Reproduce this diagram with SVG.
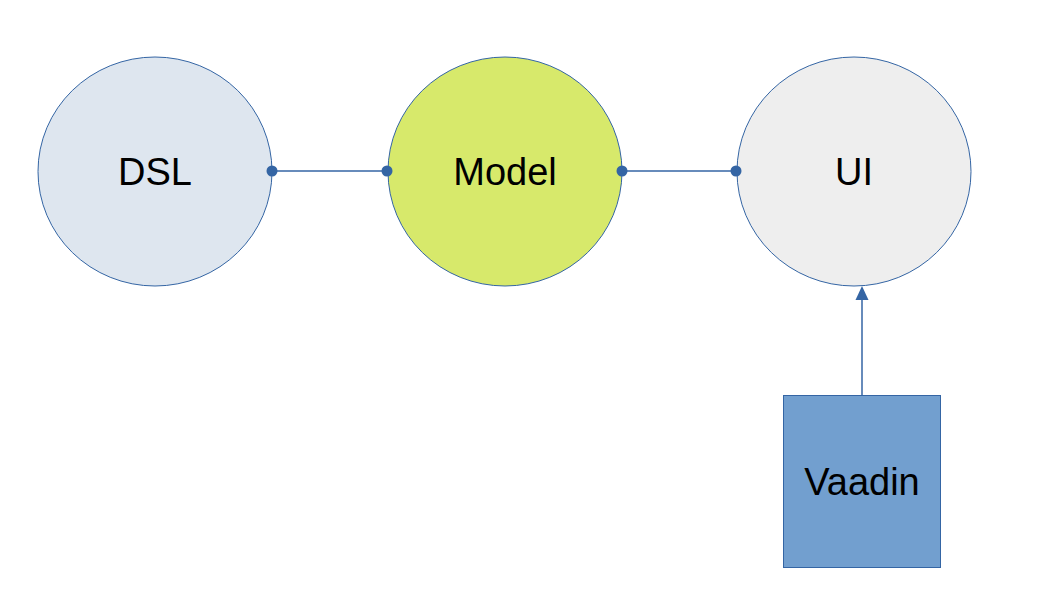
<svg xmlns="http://www.w3.org/2000/svg" width="1058" height="595" viewBox="0 0 1058 595">
<style>
.node{stroke:#3465a4;stroke-width:1}
.lbl{font-family:"Liberation Sans",Arial,sans-serif;font-size:38px;fill:#000;text-anchor:middle}
.conn{stroke:#3465a4;stroke-width:1.5;fill:none}
.dot{fill:#3465a4}
</style>
<rect width="1058" height="595" fill="#fff"/>
<g id="dsl">
<ellipse class="node" cx="155" cy="171.5" rx="117" ry="114.5" fill="#dee6ef"/>
<text class="lbl" x="155" y="184.5">DSL</text>
</g>
<g id="model">
<ellipse class="node" cx="505" cy="171.5" rx="117" ry="114.5" fill="#d7e96b"/>
<text class="lbl" x="505" y="184.5">Model</text>
</g>
<g id="ui">
<ellipse class="node" cx="854" cy="171.5" rx="117" ry="114.5" fill="#eeeeee"/>
<text class="lbl" x="854" y="184.5">UI</text>
</g>
<g id="vaadin">
<rect class="node" x="783.5" y="395.5" width="157" height="172" fill="#729fcf"/>
<text class="lbl" x="862" y="494.5">Vaadin</text>
</g>
<g id="connectors">
<line class="conn" x1="272" y1="171" x2="387" y2="171"/>
<circle class="dot" cx="272" cy="171" r="5.5"/>
<circle class="dot" cx="387" cy="171" r="5.5"/>
<line class="conn" x1="622" y1="171" x2="736" y2="171"/>
<circle class="dot" cx="622" cy="171" r="5.5"/>
<circle class="dot" cx="736" cy="171" r="5.5"/>
<line class="conn" x1="862" y1="395" x2="862" y2="298"/>
<path d="M855.5,300 L862,286 L868.5,300 Z" fill="#3465a4"/>
</g>
</svg>
